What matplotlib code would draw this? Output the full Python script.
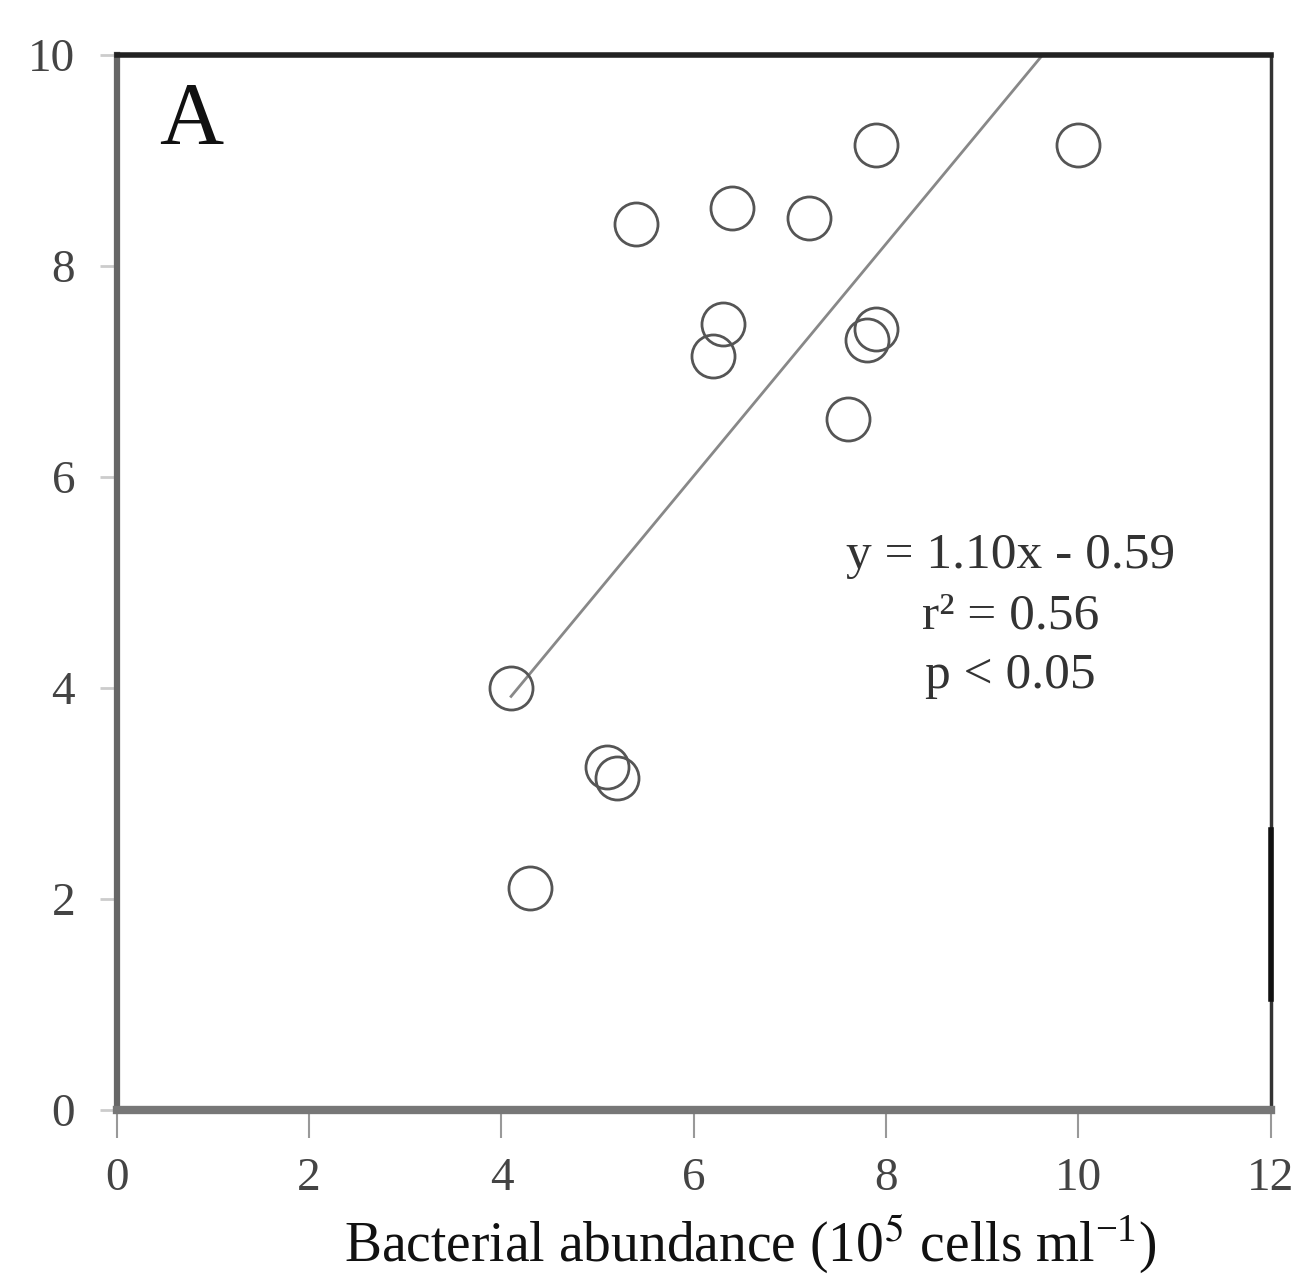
import matplotlib
matplotlib.use("Agg")
import matplotlib.pyplot as plt
import numpy as np

# Bacterial abundance (10^5 cells/ml) vs response, panel A
abundance = [4.1, 4.3, 5.1, 5.2, 5.4, 6.4, 7.2, 7.9, 10.0, 6.3, 6.2, 7.9, 7.8, 7.6]
response = [4.0, 2.1, 3.25, 3.15, 8.4, 8.55, 8.45, 9.15, 9.15, 7.45, 7.15, 7.4, 7.3, 6.55]

slope, intercept = 1.10, -0.59
fit_x = [4.1, 9.7]

x_ticks = [0, 2, 4, 6, 8, 10, 12]
y_ticks = [0, 2, 4, 6, 8, 10]

plt.rcParams["font.family"] = ["Liberation Serif", "DejaVu Serif"]
plt.rcParams["mathtext.fontset"] = "stix"

fig = plt.figure(figsize=(12.98, 12.78), dpi=100)
ax = fig.add_axes([0.090, 0.1315, 0.889, 0.8255])

ax.plot(abundance, response, linestyle="none", marker="o", markersize=31,
        markerfacecolor="none", markeredgecolor="#555555", markeredgewidth=2.0,
        zorder=3)

fx = np.array(fit_x)
ax.plot(fx, slope * fx + intercept, color="#888888", linewidth=2.0, zorder=2)

ax.set_xlim(0, 12)
ax.set_ylim(0, 10)
ax.set_xticks(x_ticks)
ax.set_yticks(y_ticks)

ax.tick_params(axis="x", direction="out", length=20, width=1.5, color="#999999",
               labelsize=34, labelcolor="#444444", pad=14)
ax.tick_params(axis="y", direction="out", length=12, width=2, color="#cccccc",
               labelsize=34, labelcolor="#444444", pad=18)

ax.spines["left"].set_color("#666666")
ax.spines["left"].set_linewidth(4.5)
ax.spines["bottom"].set_color("#777777")
ax.spines["bottom"].set_linewidth(6)
ax.spines["top"].set_color("#222222")
ax.spines["top"].set_linewidth(4)
ax.spines["right"].set_color("#333333")
ax.spines["right"].set_linewidth(2.5)

# darker stretch on the right frame
ax.plot([1.0, 1.0], [0.105, 0.265], transform=ax.transAxes, color="#111111",
        linewidth=4, clip_on=False, zorder=5)

ax.set_xlabel(r"Bacterial abundance (10$^{5}$ cells ml$^{\mathregular{-1}}$)",
              fontsize=40, color="#111111")
ax.xaxis.set_label_coords(0.549, -0.097)

ax.text(0.037, 0.975, "A", transform=ax.transAxes, fontsize=64,
        color="#111111", va="top", ha="left")

ax.text(9.29, 4.68, "y = 1.10x - 0.59\nr\u00b2 = 0.56\np < 0.05",
        fontsize=37, color="#333333", ha="center", va="center",
        linespacing=1.38)

fig.savefig("out.png", dpi=100)
